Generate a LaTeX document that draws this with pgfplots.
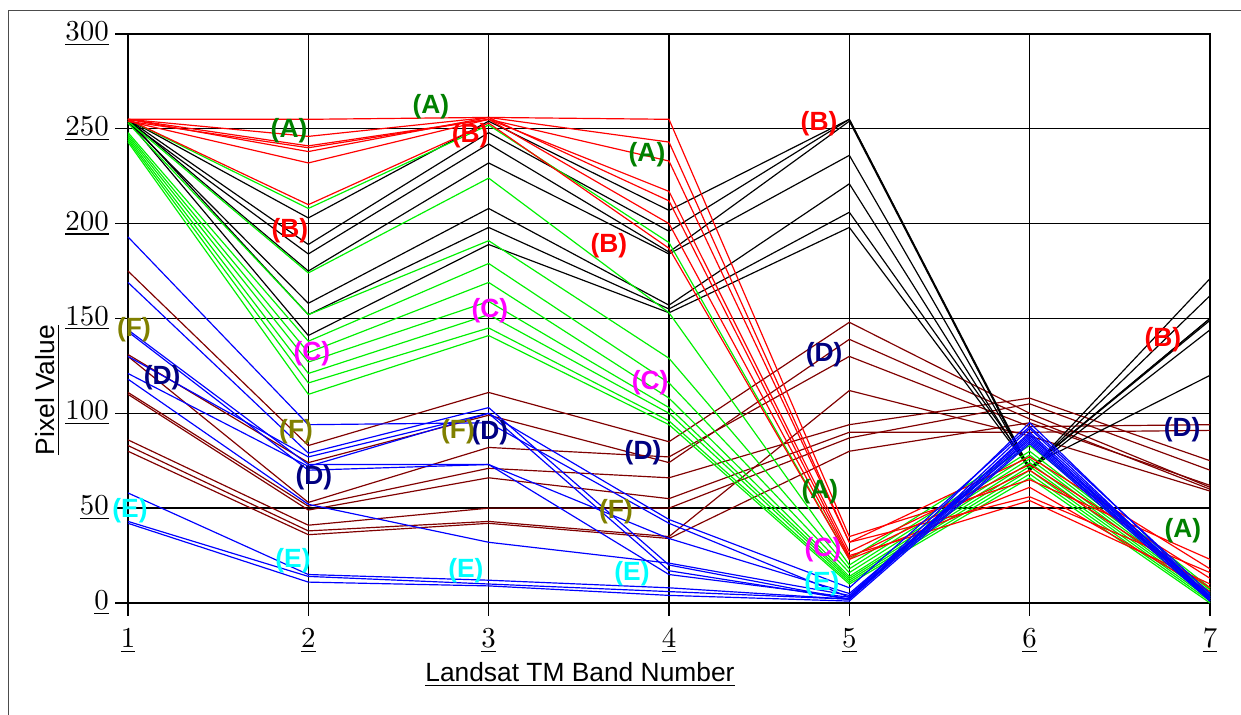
\documentclass[border=0pt]{standalone}
\usepackage{fontspec}
\setmainfont{Liberation Sans}
\usepackage{pgfplots}
\pgfplotsset{compat=1.18}
\usepackage{pgfplotstable}
\definecolor{cA}{RGB}{0,128,0}
\definecolor{cB}{RGB}{255,0,0}
\definecolor{cC}{RGB}{255,0,255}
\definecolor{cD}{RGB}{0,0,128}
\definecolor{cE}{RGB}{0,255,255}
\definecolor{cF}{RGB}{128,128,0}
\definecolor{lred}{RGB}{255,0,0}
\definecolor{lgreen}{RGB}{0,240,0}
\definecolor{lblue}{RGB}{0,0,255}
\definecolor{lbrown}{RGB}{128,0,0}
\tikzset{lab/.style={font=\bfseries, inner sep=0pt, anchor=center}}

\pgfplotstableread{
band r1 r2 r3 r4 r5 r6 r7
1 255 255 255 254 255 254 255
2 255 246 241 240 238 232 210
3 256 256 255 255 256 255 253
4 255 243 233 217 212 200 187
5 35 32 32 27 25 24 23
6 65 77 56 73 54 70 61
7 23 18 16 13 10 8 6
}\redtab

\pgfplotstableread{
band k1 k2 k3 k4 k5 k6 k7
1 255 255 254 255 254 255 254
2 203 189 184 175 158 152 141
3 254 248 242 232 208 198 189
4 207 196 185 184 157 155 153
5 255 255 254 236 221 206 198
6 70 71 70 71 70 72 71
7 171 150 162 149 144 120 150
}\blacktab

\pgfplotstableread{
band g1 g2 g3 g4 g5 g6 g7 g8 g9
1 255 254 253 248 247 246 245 244 243
2 208 174 152 138 132 127 121 116 110
3 252 224 191 179 169 159 152 145 141
4 190 153 129 116 108 103 100 96 94
5 23 20 18 16 14 13 12 11 10
6 83 80 78 76 74 72 70 68 66
7 8 7 6 5 4 3 2 1 0
}\greentab

\pgfplotstableread{
band b1 b2 b3 b4 b5 b6 b7 b8 b9 b10
1 193 169 130 144 143 121 118 58 43 42
2 94 79 77 73 70 72 52 15 14 11
3 95 103 100 73 73 100 32 12 10 9
4 42 20 17 15 34 44 21 8 6 4
5 3 2 2 3 5 8 4 2 2 1
6 95 92 90 88 86 93 89 87 85 84
7 3 2 3 4 2 5 1 3 2 1
}\bluetab

\pgfplotstableread{
band f1 f2 f3 f4 f5 f6 f7 f8
1 175 131 130 111 110 86 83 80
2 83 74 53 51 49 41 38 36
3 111 99 82 71 66 50 43 42
4 85 74 77 66 55 50 35 34
5 148 139 130 94 90 87 112 80
6 100 97 93 108 90 105 88 95
7 61 60 94 75 91 70 59 62
}\browntab

\begin{document}
\begin{tikzpicture}
\useasboundingbox (0,0) rectangle (16.547cm,9.533cm);
\begin{axis}[
  at={(1.7067cm,1.4933cm)}, anchor=south west,
  scale only axis, width=14.427cm, height=7.587cm,
  xmin=1, xmax=7, ymin=0, ymax=300,
  xtick={1,...,7}, ytick={0,50,...,300},
  tick align=outside, tick pos=left, major tick length=0.173cm,
  grid=major, major grid style={black, line width=0.5pt},
  axis line style={black, line width=0.5pt},
  every tick/.style={black, line width=0.5pt},
  xticklabel={$\underline{\pgfmathprintnumber{\tick}}$},
  yticklabel={$\underline{\pgfmathprintnumber{\tick}}$},
  tick label style={font=\fontsize{11}{13}\selectfont},
  yticklabel style={xshift=0.04cm},
  xticklabel style={yshift=-0.05cm},
  xlabel={\underline{Landsat TM Band Number}},
  ylabel={\underline{Pixel Value}},
  xlabel style={at={(axis description cs:0.4177,-0.1388)}, anchor=base},
  ylabel style={at={(axis description cs:-0.0675,0.374)}, anchor=base},
  clip=false, no markers,
  every axis plot/.append style={line width=0.45pt},
]
\pgfplotsinvokeforeach{1,...,8}{\addplot[lbrown] table[x=band,y=f#1]{\browntab};}
\pgfplotsinvokeforeach{1,...,7}{\addplot[black] table[x=band,y=k#1]{\blacktab};}
\pgfplotsinvokeforeach{1,...,9}{\addplot[lgreen] table[x=band,y=g#1]{\greentab};}
\pgfplotsinvokeforeach{1,...,7}{\addplot[lred] table[x=band,y=r#1]{\redtab};}
\pgfplotsinvokeforeach{1,...,10}{\addplot[lblue] table[x=band,y=b#1]{\bluetab};}

\node[lab, text=cA] at (axis cs:1.893,248.9) {(A)};
\node[lab, text=cA] at (axis cs:2.68,261.5) {(A)};
\node[lab, text=cA] at (axis cs:3.878,236.2) {(A)};
\node[lab, text=cA] at (axis cs:4.837,58.5) {(A)};
\node[lab, text=cA] at (axis cs:6.85,38) {(A)};
\node[lab, text=cB] at (axis cs:2.897,246.2) {(B)};
\node[lab, text=cB] at (axis cs:4.832,252.5) {(B)};
\node[lab, text=cB] at (axis cs:1.898,196.1) {(B)};
\node[lab, text=cB] at (axis cs:3.667,188.2) {(B)};
\node[lab, text=cB] at (axis cs:6.739,138.7) {(B)};
\node[lab, text=cC] at (axis cs:2.02,131.3) {(C)};
\node[lab, text=cC] at (axis cs:3.007,154) {(C)};
\node[lab, text=cC] at (axis cs:3.895,116) {(C)};
\node[lab, text=cC] at (axis cs:4.854,27.9) {(C)};
\node[lab, text=cD] at (axis cs:1.189,118.6) {(D)};
\node[lab, text=cD] at (axis cs:2.031,65.9) {(D)};
\node[lab, text=cD] at (axis cs:3.007,89.6) {(D)};
\node[lab, text=cD] at (axis cs:3.856,79.1) {(D)};
\node[lab, text=cD] at (axis cs:4.86,130.8) {(D)};
\node[lab, text=cD] at (axis cs:6.845,91.2) {(D)};
\node[lab, text=cE] at (axis cs:1.011,48.5) {(E)};
\node[lab, text=cE] at (axis cs:1.915,22.1) {(E)};
\node[lab, text=cE] at (axis cs:2.874,16.9) {(E)};
\node[lab, text=cE] at (axis cs:3.795,15.3) {(E)};
\node[lab, text=cE] at (axis cs:4.848,10) {(E)};
\node[lab, text=cF] at (axis cs:1.033,143.9) {(F)};
\node[lab, text=cF] at (axis cs:1.932,90.2) {(F)};
\node[lab, text=cF] at (axis cs:2.83,90.2) {(F)};
\node[lab, text=cF] at (axis cs:3.706,48) {(F)};
\end{axis}
\draw[black!70, line width=0.5pt] (0.111cm,0) -- (0.111cm,9.391cm) -- (16.547cm,9.391cm);
\end{tikzpicture}
\end{document}
